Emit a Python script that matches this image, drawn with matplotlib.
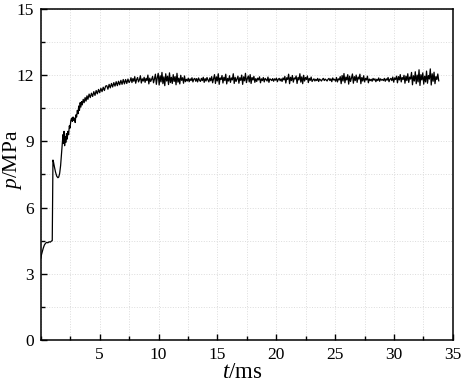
import numpy as np
import matplotlib
matplotlib.use("Agg")
import matplotlib.pyplot as plt
from matplotlib.ticker import MultipleLocator

plt.rcParams['font.family'] = 'Liberation Serif'
plt.rcParams['mathtext.fontset'] = 'custom'
plt.rcParams['mathtext.rm'] = 'Liberation Serif'
plt.rcParams['mathtext.it'] = 'Liberation Serif:italic'

# --- rise phase (t in ms, p in MPa) ---
t_rise = [0.00, 0.05, 0.10, 0.20, 0.30, 0.40, 0.50, 0.60, 0.70, 0.80, 0.90, 0.97,
          1.00, 1.03, 1.08, 1.15, 1.25, 1.35, 1.45, 1.52, 1.60, 1.68, 1.75, 1.82,
          1.88, 1.92, 1.97, 2.02, 2.08, 2.12, 2.18, 2.24, 2.30, 2.36, 2.42, 2.48,
          2.55, 2.62, 2.68, 2.74, 2.80, 2.86, 2.92, 2.98, 3.04, 3.10, 3.16, 3.22,
          3.28, 3.34, 3.40, 3.46, 3.52, 3.60, 3.68, 3.76, 3.84, 3.92, 4.00, 4.10,
          4.20, 4.30, 4.40, 4.50, 4.60, 4.70, 4.80, 4.90, 5.00, 5.10, 5.20, 5.30,
          5.40, 5.50, 5.60, 5.70, 5.80, 5.90, 6.00, 6.10, 6.20, 6.30, 6.40, 6.50,
          6.60, 6.70, 6.80, 6.90, 7.00, 7.10, 7.20, 7.30, 7.40, 7.50]
p_rise = [3.70, 3.85, 3.95, 4.15, 4.30, 4.38, 4.42, 4.40, 4.45, 4.43, 4.48, 4.50,
          6.50, 8.15, 8.05, 7.85, 7.60, 7.42, 7.35, 7.38, 7.55, 7.90, 8.40, 8.85,
          9.30, 8.90, 9.45, 8.80, 9.20, 8.95, 9.35, 9.10, 9.45, 9.30, 9.70, 9.60,
          9.95, 10.05, 9.90, 10.10, 9.95, 10.05, 9.85, 10.20, 10.10, 10.40, 10.25, 10.60,
          10.40, 10.75, 10.55, 10.80, 10.65, 10.90, 10.75, 10.98, 10.82, 11.06, 10.90, 11.14,
          10.98, 11.18, 11.03, 11.25, 11.08, 11.30, 11.15, 11.35, 11.20, 11.40, 11.25, 11.45,
          11.30, 11.50, 11.52, 11.36, 11.58, 11.42, 11.62, 11.46, 11.66, 11.50, 11.70, 11.52,
          11.72, 11.56, 11.76, 11.58, 11.80, 11.60, 11.80, 11.62, 11.82, 11.66]

# --- plateau phase, sampled evenly from 7.58 ms to 33.8 ms ---
t_plateau_start = 7.58
t_plateau_end = 33.8
p_plateau = [
    11.74, 11.88, 11.66, 11.84, 11.72, 11.93, 11.63, 11.80, 11.89, 11.69, 11.79, 11.97, 11.64, 11.83, 11.73,
    11.90, 11.67, 11.85, 11.75, 12.00, 11.60, 11.86, 11.71, 11.81, 11.94, 11.65, 11.83, 12.04, 11.58, 11.88,
    12.08, 11.55, 11.97, 11.69, 12.12, 11.61, 11.92, 11.52, 12.06, 11.73, 11.95, 11.57, 12.10, 11.66, 11.90,
    11.62, 12.02, 11.71, 11.93, 11.56, 12.08, 11.68, 11.86, 11.60, 11.99, 11.76, 11.88, 11.63, 11.96, 11.70,
    11.81, 11.73, 11.86, 11.70, 11.83, 11.75, 11.88, 11.69, 11.82, 11.85, 11.72, 11.84, 11.69, 11.87, 11.77,
    11.71, 11.85, 11.75, 11.90, 11.67, 11.84, 11.73, 11.89, 11.78, 11.69, 11.87, 11.74, 11.93, 11.65, 11.84,
    12.02, 11.62, 11.92, 11.73, 12.06, 11.58, 11.87, 11.80, 11.98, 11.64, 11.90, 11.75, 12.04, 11.60, 11.85,
    11.73, 11.97, 11.67, 11.87, 11.78, 12.06, 11.62, 11.90, 11.71, 11.83, 11.95, 11.63, 11.88, 11.76, 12.00,
    11.58, 11.92, 11.74, 12.08, 11.66, 11.84, 11.96, 11.69, 12.02, 11.62, 11.89, 11.78, 11.94, 11.67, 11.84,
    11.71, 11.86, 11.78, 11.92, 11.65, 11.83, 11.75, 11.89, 11.69, 11.85, 11.80, 11.73, 11.91, 11.67, 11.83,
    11.80, 11.75, 11.84, 11.72, 11.83, 11.77, 11.86, 11.70, 11.81, 11.85, 11.74, 11.83, 11.71, 11.87, 11.78,
    11.94, 11.64, 11.88, 11.80, 12.04, 11.61, 11.90, 11.75, 11.98, 11.68, 11.87, 11.82, 11.96, 11.62, 11.89,
    11.78, 12.06, 11.68, 11.92, 11.61, 11.99, 11.73, 11.89, 11.80, 11.96, 11.66, 11.85, 11.76, 11.91, 11.71,
    11.78, 11.83, 11.73, 11.81, 11.75, 11.85, 11.71, 11.82, 11.78, 11.73, 11.81, 11.85, 11.75, 11.82, 11.78,
    11.73, 11.81, 11.85, 11.75, 11.83, 11.70, 11.87, 11.78, 11.81, 11.72, 11.89, 11.69, 11.83, 11.78, 11.93,
    11.61, 11.98, 11.73, 12.07, 11.65, 11.91, 11.78, 12.02, 11.59, 11.95, 11.71, 11.87, 12.05, 11.63, 11.93,
    11.75, 12.00, 11.67, 11.91, 11.82, 12.04, 11.61, 11.89, 11.73, 11.97, 11.69, 11.85, 11.78, 11.95, 11.65,
    11.82, 11.75, 11.81, 11.72, 11.85, 11.77, 11.83, 11.70, 11.81, 11.75, 11.87, 11.72, 11.83, 11.77, 11.80,
    11.75, 11.85, 11.72, 11.83, 11.77, 11.89, 11.70, 11.81, 11.85, 11.75, 11.91, 11.68, 11.87, 11.80, 11.95,
    11.65, 11.93, 11.78, 12.02, 11.69, 11.89, 11.80, 11.99, 11.63, 11.95, 11.75, 12.06, 11.67, 11.91, 11.82,
    12.12, 11.56, 11.97, 11.73, 12.15, 11.61, 12.00, 11.69, 12.24, 11.53, 12.02, 11.78, 12.10, 11.59, 11.95,
    11.69, 12.18, 11.63, 11.98, 11.82, 12.28, 11.55, 12.06, 11.72, 12.13, 11.61, 11.93, 11.80, 12.05, 11.74,
]

x_ticks = [5, 10, 15, 20, 25, 30, 35]
y_ticks = [0, 3, 6, 9, 12, 15]

t_plateau = np.linspace(t_plateau_start, t_plateau_end, len(p_plateau))
t = np.concatenate([t_rise, t_plateau])
p = np.concatenate([p_rise, p_plateau])

fig = plt.figure(figsize=(4.64, 3.85), dpi=100)
ax = fig.add_axes([0.088, 0.117, 0.888, 0.860])

ax.plot(t, p, color='black', linewidth=0.9)

ax.set_xlim(0, 35)
ax.set_ylim(0, 15)
ax.set_xticks(x_ticks)
ax.set_yticks(y_ticks)
ax.xaxis.set_minor_locator(MultipleLocator(2.5))
ax.yaxis.set_minor_locator(MultipleLocator(1.5))
ax.tick_params(which='both', direction='in', labelsize=12.5, width=1.0)
ax.tick_params(which='major', length=4)
ax.tick_params(axis='x', which='major', pad=5)
ax.tick_params(axis='y', which='major', pad=5)
ax.tick_params(which='minor', length=3)
ax.grid(True, which='both', linestyle=':', color='#dcdcdc', linewidth=0.7)

for s in ax.spines.values():
    s.set_linewidth(1.1)

# axis titles placed as in the reference
fig.text(242 / 464, 1 - 383 / 385, '$t$/ms', fontsize=16.5, ha='center', va='bottom')
fig.text(1 / 464, 1 - 160 / 385, '$p$/MPa', fontsize=15.5, ha='left', va='center',
         rotation=90)

fig.savefig('out.png', dpi=100)
